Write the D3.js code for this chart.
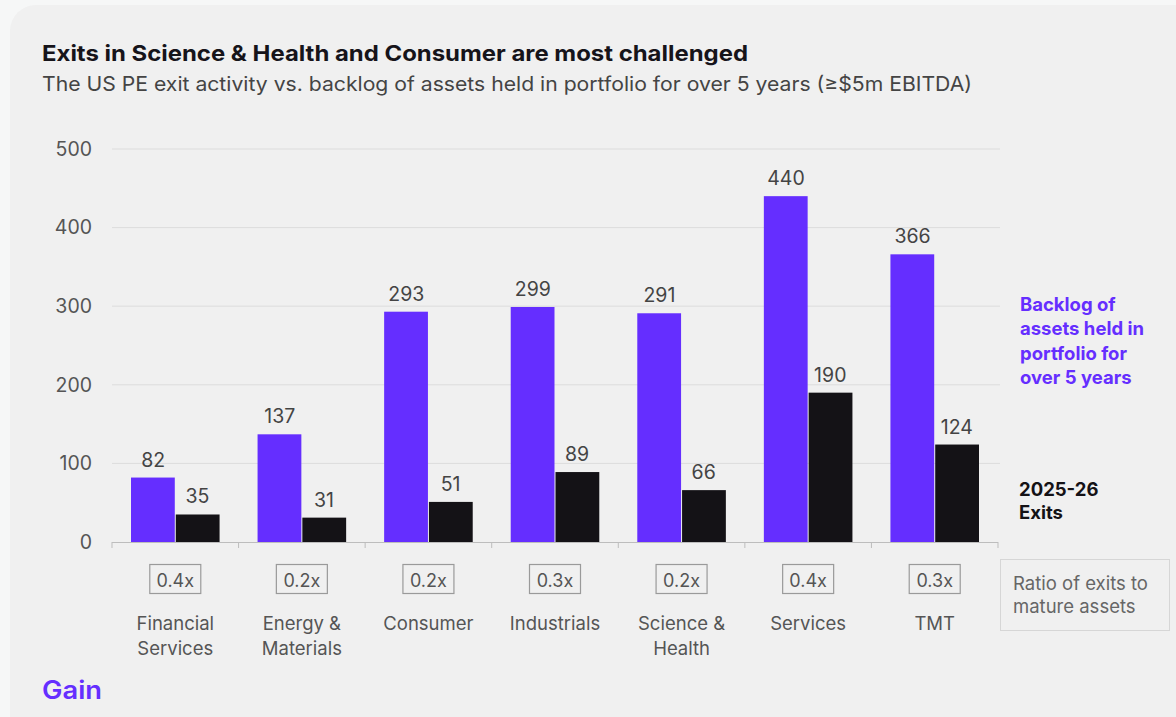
<!DOCTYPE html>
<html>
<head>
<meta charset="utf-8">
<script src="https://cdn.jsdelivr.net/npm/d3@7"></script>
<style>
  html, body { margin: 0; padding: 0; background: #f6f7f7; }
  svg { display: block; }
</style>
</head>
<body>
<svg id="chart" width="1176" height="717"></svg>
<script>
// Sector data: backlog of assets held >5 years vs. 2025-26 exits
const categories = [["Financial", "Services"], ["Energy &", "Materials"], ["Consumer"], ["Industrials"], ["Science &", "Health"], ["Services"], ["TMT"]];
const backlog = [82, 137, 293, 299, 291, 440, 366];
const exits = [35, 31, 51, 89, 66, 190, 124];
const ratios = ["0.4x", "0.2x", "0.2x", "0.3x", "0.2x", "0.4x", "0.3x"];
const yTicks = [0, 100, 200, 300, 400, 500];

const PURPLE = "#652eff";
const BLACK = "#141216";
const FONT = "Inter, 'Liberation Sans', sans-serif";

const svg = d3.select("#chart");

// card background
svg.append("rect")
  .attr("x", 10).attr("y", 5).attr("width", 1200).attr("height", 760)
  .attr("rx", 26).attr("fill", "#f0f0f0");

// titles
svg.append("text").attr("x", 42).attr("y", 61)
  .attr("font-family", FONT).attr("font-size", 21.5).attr("font-weight", 700)
  .attr("fill", "#16141a")
  .attr("textLength", 706).attr("lengthAdjust", "spacingAndGlyphs")
  .text("Exits in Science & Health and Consumer are most challenged");
svg.append("text").attr("x", 42).attr("y", 91)
  .attr("font-family", FONT).attr("font-size", 20).attr("fill", "#444")
  .attr("textLength", 930).attr("lengthAdjust", "spacingAndGlyphs")
  .text("The US PE exit activity vs. backlog of assets held in portfolio for over 5 years (≥$5m EBITDA)");

// scales
const x = d3.scaleBand().domain(d3.range(categories.length)).range([112, 998]).paddingInner(0).paddingOuter(0);
const y = d3.scaleLinear().domain([0, 500]).range([542, 149]);
const barPad = 19;
const barW = (x.bandwidth() - 2 * barPad) / 2;

// gridlines
svg.append("g").selectAll("line").data(yTicks.filter(d => d > 0)).join("line")
  .attr("x1", 112).attr("x2", 1000)
  .attr("y1", d => y(d)).attr("y2", d => y(d))
  .attr("stroke", "#dcdcdc").attr("stroke-width", 1);

// y axis labels
const yAxis = d3.axisLeft(y).tickValues(yTicks).tickSize(0).tickPadding(0);
const yg = svg.append("g").attr("transform", "translate(92,0)").call(yAxis);
yg.select(".domain").remove();
yg.selectAll("text").attr("font-family", FONT).attr("font-size", 19.5).attr("fill", "#555");

// bars
const groups = svg.append("g").selectAll("g").data(categories).join("g")
  .attr("transform", (d, i) => `translate(${x(i)},0)`);

groups.append("rect")
  .attr("x", barPad).attr("width", barW - 0.5)
  .attr("y", (d, i) => y(backlog[i])).attr("height", (d, i) => y(0) - y(backlog[i]))
  .attr("fill", PURPLE);
groups.append("rect")
  .attr("x", barPad + barW + 0.5).attr("width", barW - 0.5)
  .attr("y", (d, i) => y(exits[i])).attr("height", (d, i) => y(0) - y(exits[i]))
  .attr("fill", BLACK);

// value labels
groups.append("text")
  .attr("x", barPad + barW / 2).attr("y", (d, i) => y(backlog[i]) - 11)
  .attr("text-anchor", "middle").attr("font-family", FONT).attr("font-size", 19.5).attr("fill", "#444")
  .text((d, i) => backlog[i]);
groups.append("text")
  .attr("x", barPad + barW * 1.5).attr("y", (d, i) => y(exits[i]) - 11)
  .attr("text-anchor", "middle").attr("font-family", FONT).attr("font-size", 19.5).attr("fill", "#444")
  .text((d, i) => exits[i]);

// x axis baseline with ticks
const xAxis = svg.append("g");
xAxis.append("line").attr("x1", 112).attr("x2", 998).attr("y1", 542.5).attr("y2", 542.5)
  .attr("stroke", "#bdbdbd").attr("stroke-width", 1);
xAxis.selectAll("line.tick").data(d3.range(categories.length + 1)).join("line")
  .attr("class", "tick")
  .attr("x1", i => 112 + i * x.bandwidth()).attr("x2", i => 112 + i * x.bandwidth())
  .attr("y1", 542).attr("y2", 548)
  .attr("stroke", "#bdbdbd");

// ratio boxes
groups.append("rect")
  .attr("x", x.bandwidth() / 2 - 25.5).attr("y", 564.5).attr("width", 51).attr("height", 29)
  .attr("fill", "none").attr("stroke", "#9a9a9a").attr("stroke-width", 1.2);
groups.append("text")
  .attr("x", x.bandwidth() / 2).attr("y", 586.5)
  .attr("text-anchor", "middle").attr("font-family", FONT).attr("font-size", 18).attr("fill", "#555")
  .text((d, i) => ratios[i]);

// category labels
groups.append("text")
  .attr("text-anchor", "middle").attr("font-family", FONT).attr("font-size", 18.5).attr("fill", "#555")
  .selectAll("tspan").data(d => d).join("tspan")
  .attr("x", x.bandwidth() / 2).attr("y", (d, j) => 630 + j * 25)
  .text(d => d);

// series legend
const legend1 = ["Backlog of", "assets held in", "portfolio for", "over 5 years"];
svg.append("text").attr("font-family", FONT).attr("font-size", 18.5).attr("font-weight", 700).attr("fill", PURPLE)
  .selectAll("tspan").data(legend1).join("tspan")
  .attr("x", 1020).attr("y", (d, j) => 310.5 + j * 24.6).text(d => d);
const legend2 = ["2025-26", "Exits"];
svg.append("text").attr("font-family", FONT).attr("font-size", 18.5).attr("font-weight", 700).attr("fill", BLACK)
  .selectAll("tspan").data(legend2).join("tspan")
  .attr("x", 1019).attr("y", (d, j) => 496 + j * 23).text(d => d);

// ratio legend
svg.append("rect").attr("x", 1000.5).attr("y", 559.5).attr("width", 169).attr("height", 71)
  .attr("fill", "none").attr("stroke", "#d6d6d6");
svg.append("text").attr("font-family", FONT).attr("font-size", 18.5).attr("fill", "#666")
  .selectAll("tspan").data(["Ratio of exits to", "mature assets"]).join("tspan")
  .attr("x", 1013).attr("y", (d, j) => 590 + j * 23).text(d => d);

// logo
svg.append("text").attr("x", 42).attr("y", 699)
  .attr("font-family", FONT).attr("font-size", 25.5).attr("font-weight", 600).attr("fill", PURPLE)
  .attr("textLength", 60).attr("lengthAdjust", "spacingAndGlyphs")
  .text("Gain");
</script>
</body>
</html>
